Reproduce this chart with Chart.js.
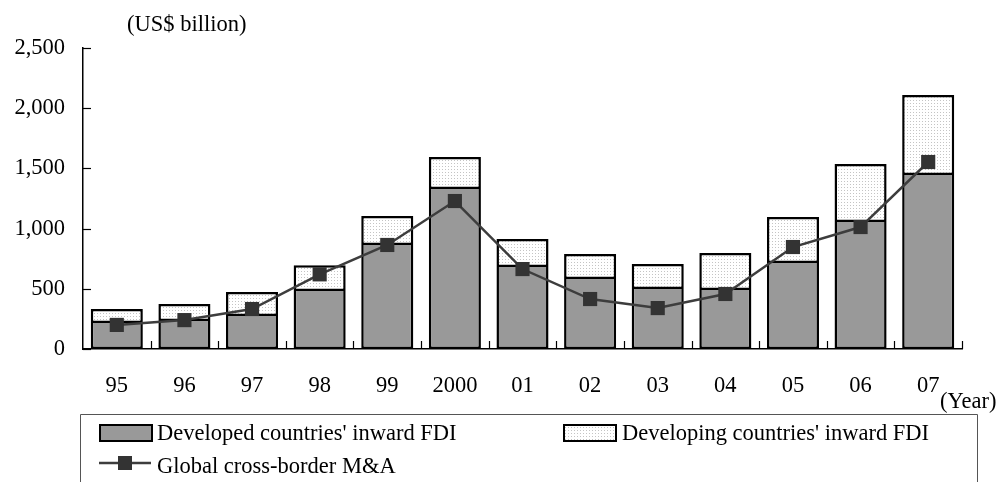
<!DOCTYPE html>
<html>
<head>
<meta charset="utf-8">
<script src="https://cdn.jsdelivr.net/npm/chart.js@4"></script>
<style>
  body { margin: 0; background: #fff; }
  #wrap { width: 1000px; height: 482px; position: relative; }
</style>
</head>
<body>
<div id="wrap"><canvas id="chart" width="1000" height="482"></canvas></div>
<script>
// данные
const years = ["95", "96", "97", "98", "99", "2000", "01", "02", "03", "04", "05", "06", "07"];
const developedFDI = [216, 233, 274, 482, 864, 1329, 681, 581, 498, 490, 714, 1055, 1445];
const developingFDI = [116, 141, 199, 213, 241, 266, 233, 208, 208, 307, 382, 481, 665];
const crossBorderMA = [200, 240, 332, 620, 864, 1229, 664, 415, 340, 457, 847, 1013, 1553];
const yTicks = [0, 500, 1000, 1500, 2000, 2500];

const FONT = "'Liberation Serif', 'Times New Roman', serif";
const FS = 22.5;
Chart.defaults.font.family = FONT;
Chart.defaults.font.size = FS;
Chart.defaults.color = "#000";

// точечная заливка для развивающихся стран
function dotPattern() {
  const c = document.createElement("canvas");
  c.width = 3; c.height = 3;
  const g = c.getContext("2d");
  g.fillStyle = "#ffffff";
  g.fillRect(0, 0, 3, 3);
  g.fillStyle = "#c4c4c4";
  g.fillRect(1, 1, 1, 1);
  return g.createPattern(c, "repeat");
}
const dots = dotPattern();

// внутренние засечки осей, подпись единиц и легенда
const decor = {
  id: "decor",
  beforeDatasetsDraw(chart) {
    const ctx = chart.ctx;
    const x = chart.scales.x, y = chart.scales.y;
    const area = chart.chartArea;
    const step = x.getPixelForValue(1) - x.getPixelForValue(0);
    ctx.save();
    ctx.strokeStyle = "#000";
    ctx.lineWidth = 1.2;
    yTicks.forEach(v => {
      const py = Math.round(y.getPixelForValue(v)) + 0.5;
      ctx.beginPath();
      ctx.moveTo(area.left, py);
      ctx.lineTo(area.left + 8, py);
      ctx.stroke();
    });
    for (let i = 0; i < years.length; i++) {
      const px = Math.round(x.getPixelForValue(i) + step / 2) + 0.5;
      ctx.beginPath();
      ctx.moveTo(px, area.bottom);
      ctx.lineTo(px, area.bottom - 8);
      ctx.stroke();
    }
    ctx.restore();
  },
  afterDraw(chart) {
    const ctx = chart.ctx;
    ctx.save();
    ctx.fillStyle = "#000";
    ctx.font = FS + "px " + FONT;
    ctx.textBaseline = "middle";
    ctx.textAlign = "left";
    ctx.fillText("(US$ billion)", 127, 25);
    ctx.fillText("(Year)", 940, 402);

    // рамка легенды
    ctx.strokeStyle = "#555";
    ctx.lineWidth = 1;
    ctx.beginPath();
    ctx.moveTo(80.5, 490);
    ctx.lineTo(80.5, 414.5);
    ctx.lineTo(977.5, 414.5);
    ctx.lineTo(977.5, 490);
    ctx.stroke();

    const ds = chart.data.datasets;
    const box = (x0, y0, fill) => {
      ctx.fillStyle = fill;
      ctx.fillRect(x0, y0, 52, 16);
      ctx.strokeStyle = "#000";
      ctx.lineWidth = 2;
      ctx.strokeRect(x0, y0, 52, 16);
    };
    box(100, 425, ds[0].backgroundColor);
    box(564, 425, ds[1].backgroundColor);
    ctx.fillStyle = "#000";
    ctx.fillText(ds[0].label, 157, 434);
    ctx.fillText(ds[1].label, 622, 434);

    ctx.strokeStyle = ds[2].borderColor;
    ctx.lineWidth = 2.5;
    ctx.beginPath();
    ctx.moveTo(99, 463);
    ctx.lineTo(151, 463);
    ctx.stroke();
    ctx.fillStyle = ds[2].pointBackgroundColor;
    ctx.fillRect(118, 456, 14, 14);
    ctx.fillStyle = "#000";
    ctx.fillText(ds[2].label, 157, 467);
    ctx.restore();
  }
};

new Chart(document.getElementById("chart"), {
  data: {
    labels: years,
    datasets: [
      {
        type: "bar",
        label: "Developed countries' inward FDI",
        data: developedFDI,
        backgroundColor: "#999999",
        borderColor: "#000",
        borderWidth: 2.5,
        borderSkipped: "top",
        stack: "fdi",
        order: 2
      },
      {
        type: "bar",
        label: "Developing countries' inward FDI",
        data: developingFDI,
        backgroundColor: dots,
        borderColor: "#000",
        borderWidth: 2.5,
        borderSkipped: false,
        stack: "fdi",
        order: 2
      },
      {
        type: "line",
        label: "Global cross-border M&A",
        data: crossBorderMA,
        borderColor: "#3d3d3d",
        borderWidth: 2.5,
        pointStyle: "rect",
        pointRadius: 10,
        pointBackgroundColor: "#333333",
        pointBorderColor: "#333333",
        pointBorderWidth: 0,
        tension: 0,
        order: 1
      }
    ]
  },
  options: {
    responsive: false,
    animation: false,
    layout: { padding: { top: 48, right: 38, left: 0, bottom: 0 } },
    plugins: {
      legend: { display: false },
      tooltip: { enabled: false }
    },
    datasets: {
      bar: { categoryPercentage: 1, barPercentage: 0.77 }
    },
    scales: {
      x: {
        stacked: true,
        grid: { display: false, drawTicks: false },
        border: { display: true, color: "#000", width: 1.5 },
        ticks: { padding: 24, maxRotation: 0, font: { size: FS } },
        afterFit(scale) { scale.height = 133; }
      },
      y: {
        stacked: true,
        min: 0,
        max: 2500,
        afterBuildTicks(scale) { scale.ticks = yTicks.map(v => ({ value: v })); },
        grid: { display: false, drawTicks: false },
        border: { display: true, color: "#000", width: 1.5 },
        ticks: {
          padding: 18,
          font: { size: FS },
          callback: v => v.toLocaleString("en-US")
        },
        afterFit(scale) { scale.width = 83; }
      }
    }
  },
  plugins: [decor]
});
</script>
</body>
</html>
